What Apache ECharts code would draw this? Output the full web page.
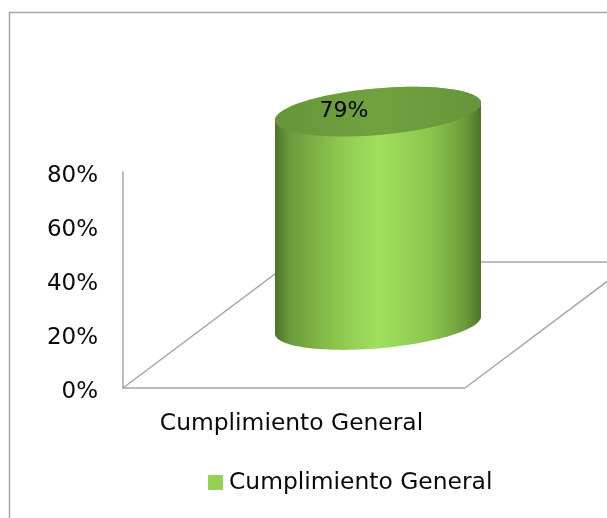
<!DOCTYPE html>
<html>
<head>
<meta charset="utf-8">
<title>Cumplimiento General</title>
<style>
  html, body { margin: 0; padding: 0; background: #fff; }
  #chart { width: 607px; height: 518px; }
</style>
<script src="https://cdn.jsdelivr.net/npm/echarts@6/dist/echarts.min.js"></script>
</head>
<body>
<div id="chart"></div>
<script>
const categories = ['Cumplimiento General']
const seriesName = 'Cumplimiento General'
const values = [79]
const yTicks = [0, 20, 40, 60, 80]

const FONT = '"DejaVu Sans"'
const GRAY = '#a6a6a6'
const INK = '#0a0a0a'
// fake 3D: depth of the floor in pixels, the cylinder stands halfway along it
const DEPTH_X = 168
const DEPTH_Y = -126

const chart = echarts.init(document.getElementById('chart'))

const ellipsePoints = (cx, cy, from, to) => {
  const a = 103.4
  const b = 23.3
  const tilt = -5 * Math.PI / 180
  const pts = []
  for (let i = 0; i <= 60; i++) {
    const t = from + (to - from) * i / 60
    pts.push([
      cx + a * Math.cos(t) * Math.cos(tilt) - b * Math.sin(t) * Math.sin(tilt),
      cy + a * Math.cos(t) * Math.sin(tilt) + b * Math.sin(t) * Math.cos(tilt)
    ])
  }
  return pts
}

const renderFloor = (params, api) => {
  const start = api.coord([api.value(0), 0])
  const band = api.size([1, 0])[0]
  const x0 = start[0] - band / 2
  const x1 = start[0] + band / 2
  const y0 = start[1]
  return {
    type: 'polyline',
    shape: {
      points: [
        [x0, y0],
        [x0 + DEPTH_X, y0 + DEPTH_Y],
        [x1 + DEPTH_X, y0 + DEPTH_Y],
        [x1, y0]
      ]
    },
    style: { stroke: GRAY, lineWidth: 1.5, fill: null }
  }
}

const renderCylinder = (params, api) => {
  const base = api.coord([api.value(0), 0])
  const top = api.coord([api.value(0), api.value(1)])
  const cx = base[0] + DEPTH_X / 2
  const baseY = base[1] + DEPTH_Y / 2
  const topY = top[1] + DEPTH_Y / 2
  const body = ellipsePoints(cx, baseY, 0, Math.PI)
    .concat(ellipsePoints(cx, topY, Math.PI, 2 * Math.PI))
  return {
    type: 'group',
    children: [
      {
        type: 'polygon',
        shape: { points: body },
        style: {
          fill: new echarts.graphic.LinearGradient(0, 0, 1, 0, [
            { offset: 0, color: '#4c7328' },
            { offset: 0.07, color: '#6a9a3c' },
            { offset: 0.3, color: '#8dc64e' },
            { offset: 0.5, color: '#a0e05e' },
            { offset: 0.75, color: '#8dc64e' },
            { offset: 0.92, color: '#6d9c3c' },
            { offset: 1, color: '#4c7328' }
          ])
        }
      },
      {
        type: 'polygon',
        shape: { points: ellipsePoints(cx, topY, 0, 2 * Math.PI) },
        style: {
          fill: new echarts.graphic.LinearGradient(0, 0, 1, 0, [
            { offset: 0, color: '#659539' },
            { offset: 0.5, color: '#71a23f' },
            { offset: 1, color: '#659539' }
          ])
        }
      },
      {
        type: 'text',
        style: {
          x: cx - 34,
          y: topY,
          text: api.value(1) + '%',
          fill: '#000',
          font: '22px ' + FONT,
          align: 'center',
          verticalAlign: 'middle'
        }
      }
    ]
  }
}

const option = {
  animation: false,
  backgroundColor: '#fff',
  textStyle: { fontFamily: FONT },
  grid: { left: 123, right: 142, top: 172, bottom: 130 },
  legend: {
    data: [seriesName],
    left: 203,
    top: 466,
    icon: 'rect',
    itemWidth: 15,
    itemHeight: 15,
    itemGap: 0,
    textStyle: { fontSize: 23.4, color: INK, fontFamily: FONT, padding: [0, 0, 0, 1] }
  },
  xAxis: {
    type: 'category',
    data: categories,
    axisLine: { lineStyle: { color: GRAY, width: 1.5 } },
    axisTick: { show: false },
    axisLabel: {
      margin: 24,
      formatter: '{a|{value}}',
      rich: { a: { fontSize: 23.4, color: INK, fontFamily: FONT, padding: [0, 5, 0, 0] } }
    }
  },
  yAxis: {
    type: 'value',
    min: yTicks[0],
    max: yTicks[yTicks.length - 1],
    interval: yTicks[1] - yTicks[0],
    axisLine: { show: true, lineStyle: { color: GRAY, width: 1.5 } },
    axisTick: { show: false },
    splitLine: { show: false },
    axisLabel: {
      margin: 25,
      formatter: '{a|{value}%}',
      rich: { a: { fontSize: 23, color: INK, fontFamily: FONT, padding: [8, 0, 0, 0] } }
    }
  },
  graphic: [{
    type: 'rect',
    silent: true,
    z: -1,
    shape: { x: 9.5, y: 12.5, width: 700, height: 600 },
    style: { fill: null, stroke: GRAY, lineWidth: 1.5 }
  }],
  series: [
    {
      type: 'custom',
      name: 'floor',
      z: 1,
      silent: true,
      renderItem: renderFloor,
      encode: { x: 0, y: 1 },
      data: categories.map((c, i) => [i, 0])
    },
    {
      type: 'custom',
      name: seriesName,
      z: 2,
      itemStyle: { color: '#94d352' },
      renderItem: renderCylinder,
      encode: { x: 0, y: 1 },
      data: values.map((v, i) => [i, v])
    }
  ]
}

chart.setOption(option)

window.addEventListener('resize', () => {
  chart.resize()
})
</script>
</body>
</html>
